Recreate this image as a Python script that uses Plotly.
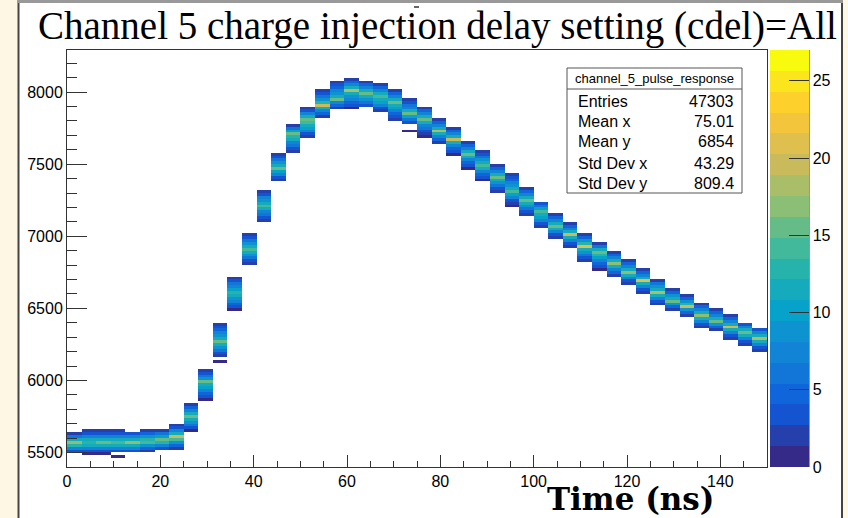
import plotly.graph_objects as go

# ---------------- data ----------------
title_text = "Channel 5 charge injection delay setting (cdel)=All"
x_title = "Time (ns)"
n_cols = 48
x_min, x_max = 0.0, 150.0
y_bin = 20
y_start = 5400

# lower edge (ADC) of the first filled y-bin of every 3.125 ns time column
col_lo = [5500, 5480, 5480, 5460, 5500, 5500, 5520, 5520, 5640, 5860,
          6120, 6480, 6800, 7100, 7380, 7580, 7680, 7820, 7880, 7880,
          7900, 7860, 7800, 7720, 7680, 7640, 7560, 7460, 7380, 7300,
          7200, 7140, 7060, 6980, 6920, 6820, 6760, 6720, 6660, 6600,
          6520, 6480, 6440, 6360, 6340, 6280, 6240, 6200]

# bin contents from bottom to top for every column
col_vals = [
    [3, 8, 13, 17, 11, 6, 2],
    [1, 3, 7, 12, 13, 11, 8, 4, 2],
    [1, 4, 8, 12, 16, 11, 7, 4, 2],
    [1, 0, 3, 7, 11, 14, 12, 8, 4, 2],
    [3, 7, 12, 17, 12, 7, 3],
    [2, 5, 9, 14, 13, 9, 5, 2],
    [3, 8, 13, 15, 10, 6, 2],
    [2, 5, 9, 14, 19, 12, 7, 4, 2],
    [1, 3, 6, 9, 12, 16, 11, 8, 5, 2],
    [1, 3, 5, 8, 10, 12, 15, 9, 6, 4, 2],
    [1, 0, 2, 4, 6, 9, 11, 15, 12, 9, 7, 5, 3, 2],
    [1, 3, 5, 7, 9, 11, 13, 10, 8, 6, 4, 2],
    [2, 4, 6, 9, 11, 14, 12, 9, 6, 4, 2],
    [2, 4, 6, 8, 11, 14, 12, 9, 7, 4, 2],
    [2, 4, 7, 10, 15, 12, 9, 6, 4, 2],
    [2, 4, 6, 8, 11, 13, 16, 10, 6, 2],
    [2, 4, 7, 10, 12, 14, 16, 11, 8, 4, 2],
    [2, 5, 8, 11, 19, 13, 9, 6, 4, 2],
    [2, 5, 8, 15, 12, 9, 7, 5, 3, 2],
    [1, 3, 5, 7, 9, 11, 18, 12, 8, 5, 2],
    [3, 6, 9, 12, 16, 12, 8, 5, 2],
    [2, 4, 7, 10, 12, 14, 11, 8, 5, 2],
    [2, 3, 5, 7, 10, 12, 15, 11, 8, 5, 2],
    [1, 0, 0, 3, 6, 10, 15, 11, 8, 6, 4, 2],
    [1, 2, 4, 6, 8, 11, 16, 12, 8, 5, 2],
    [2, 5, 8, 11, 18, 12, 8, 5, 2],
    [1, 3, 5, 8, 11, 19, 12, 8, 5, 2],
    [1, 3, 5, 8, 11, 15, 11, 8, 5, 2],
    [1, 3, 5, 8, 11, 14, 12, 9, 6, 4, 2],
    [2, 4, 6, 9, 12, 16, 12, 8, 5, 2],
    [1, 2, 4, 7, 10, 14, 12, 9, 7, 5, 3, 2],
    [2, 4, 6, 9, 12, 16, 11, 8, 5, 2],
    [2, 4, 7, 10, 12, 14, 10, 6, 3],
    [2, 4, 7, 11, 15, 11, 8, 5, 2],
    [2, 4, 7, 11, 19, 12, 8, 5, 2],
    [2, 4, 6, 9, 12, 21, 13, 9, 5, 2],
    [1, 3, 5, 7, 10, 13, 16, 11, 6, 2],
    [2, 5, 8, 12, 17, 12, 8, 5, 2],
    [2, 4, 7, 11, 17, 12, 8, 5, 2],
    [2, 4, 7, 12, 21, 12, 8, 5, 2],
    [2, 4, 7, 11, 18, 12, 9, 6, 2],
    [2, 5, 9, 16, 12, 9, 5, 2],
    [2, 5, 9, 19, 13, 9, 5, 2],
    [2, 4, 7, 11, 17, 12, 8, 5, 2],
    [2, 5, 9, 16, 12, 8, 5, 2],
    [2, 4, 7, 11, 19, 12, 8, 5, 2],
    [2, 4, 7, 11, 16, 11, 7, 3],
    [2, 4, 7, 11, 18, 11, 7, 3],
]

stats_name = "channel_5_pulse_response"
stats_labels = ["Entries", "Mean x", "Mean y", "Std Dev x", "Std Dev y"]
stats_values = ["47303", "75.01", "6854", "43.29", "809.4"]

z_max = 27
n_levels = 20

# ---------------- build histogram table ----------------
dx = (x_max - x_min) / n_cols
x_edges = [x_min + i * dx for i in range(n_cols + 1)]
top = max(lo + y_bin * len(v) for lo, v in zip(col_lo, col_vals))
n_rows = (top - y_start) // y_bin + 1
y_edges = [y_start + k * y_bin for k in range(n_rows + 1)]
z = [[None] * n_cols for _ in range(n_rows)]
for i, (lo, vals) in enumerate(zip(col_lo, col_vals)):
    r0 = (lo - y_start) // y_bin
    for j, v in enumerate(vals):
        if v > 0:
            z[r0 + j][i] = v

# ROOT kBird palette, 20 contour bands
st = [0.0, 0.125, 0.25, 0.375, 0.5, 0.625, 0.75, 0.875, 1.0]
rr = [0.2082, 0.0592, 0.0780, 0.0232, 0.1802, 0.5301, 0.8186, 0.9956, 0.9764]
gg = [0.1664, 0.3599, 0.5041, 0.6419, 0.7178, 0.7492, 0.7328, 0.7862, 0.9832]
bb = [0.5293, 0.8684, 0.8385, 0.7914, 0.6425, 0.4662, 0.3499, 0.1968, 0.0539]


def bird(f):
    for k in range(len(st) - 1):
        if f <= st[k + 1] + 1e-12:
            t = (f - st[k]) / (st[k + 1] - st[k])
            r = rr[k] + t * (rr[k + 1] - rr[k])
            g = gg[k] + t * (gg[k + 1] - gg[k])
            b = bb[k] + t * (bb[k + 1] - bb[k])
            return "rgb(%d,%d,%d)" % (round(r * 255), round(g * 255), round(b * 255))
    return "rgb(249,251,14)"


cscale = []
for k in range(n_levels):
    c = bird(k / (n_levels - 1))
    cscale.append([k / n_levels, c])
    cscale.append([(k + 1) / n_levels, c])

# ---------------- figure ----------------
W, H = 848, 518
L, R, T, B = 67, 767, 50, 467
pw, ph = R - L, B - T


def px(x):
    return (x - L) / pw


def py(y):
    return (B - y) / ph


axis_col = "#333333"
sans = "Liberation Sans, Arial, sans-serif"
serif = "Liberation Serif, Times New Roman, serif"
serif_b = "DejaVu Serif, serif"

fig = go.Figure(go.Heatmap(
    x=x_edges, y=y_edges, z=z, zmin=0, zmax=z_max,
    colorscale=cscale, zsmooth=False, hoverinfo="skip",
    colorbar=dict(
        x=px(770), xanchor="left", y=0.5, yanchor="middle",
        len=1.0, lenmode="fraction", thickness=39, thicknessmode="pixels",
        xpad=0, ypad=0, outlinewidth=0,
        tickmode="linear", tick0=0, dtick=5,
        ticks="inside", ticklen=20, tickcolor=axis_col, tickwidth=1,
        tickfont=dict(family=sans, size=16, color="black"),
    ),
))

shapes = [
    dict(type="rect", xref="paper", yref="paper", x0=px(0), x1=px(18), y0=py(518), y1=py(0),
         fillcolor="#fdf7e3", line=dict(width=0), layer="below"),
    dict(type="rect", xref="paper", yref="paper", x0=px(843), x1=px(848), y0=py(518), y1=py(0),
         fillcolor="#fdf7e3", line=dict(width=0), layer="below"),
    dict(type="line", xref="paper", yref="paper", x0=px(18.5), x1=px(18.5), y0=py(518), y1=py(0),
         line=dict(color="#444444", width=2)),
    dict(type="line", xref="paper", yref="paper", x0=px(842), x1=px(842), y0=py(518), y1=py(0),
         line=dict(color="#444444", width=2)),
    dict(type="line", xref="paper", yref="paper", x0=px(18), x1=px(843), y0=py(1.5), y1=py(1.5),
         line=dict(color="#999999", width=3)),
    # small stray dash above the title
    dict(type="line", xref="paper", yref="paper", x0=px(414), x1=px(419), y0=py(7), y1=py(7),
         line=dict(color="#333333", width=1.5)),
    dict(type="line", xref="paper", yref="paper", x0=px(809), x1=px(809), y0=0, y1=1,
         line=dict(color=axis_col, width=1)),
    dict(type="rect", xref="paper", yref="paper", x0=px(567), x1=px(742), y0=py(193), y1=py(68),
         fillcolor="white", line=dict(color="#555555", width=1)),
    dict(type="line", xref="paper", yref="paper", x0=px(567), x1=px(742), y0=py(89), y1=py(89),
         line=dict(color="#555555", width=1)),
]

ann = [
    dict(text=title_text, xref="paper", yref="paper", x=px(437), y=py(26),
         xanchor="center", yanchor="middle", showarrow=False,
         font=dict(family=serif, size=39, color="black")),
    dict(text="<b>%s</b>" % x_title, xref="paper", yref="paper", x=px(717), y=py(499),
         xanchor="right", yanchor="middle", showarrow=False,
         font=dict(family=serif_b, size=31, color="black")),
    dict(text=stats_name, xref="paper", yref="paper", x=px(654.5), y=py(78.5),
         xanchor="center", yanchor="middle", showarrow=False,
         font=dict(family=sans, size=13, color="black")),
]
row_y = [101, 121, 141, 163, 183]
for lab, val, yy in zip(stats_labels, stats_values, row_y):
    ann.append(dict(text=lab, xref="paper", yref="paper", x=px(576), y=py(yy),
                    xanchor="left", yanchor="middle", showarrow=False,
                    font=dict(family=sans, size=16, color="black")))
    ann.append(dict(text=val, xref="paper", yref="paper", x=px(736), y=py(yy),
                    xanchor="right", yanchor="middle", showarrow=False,
                    font=dict(family=sans, size=16, color="black")))

fig.update_layout(
    width=W, height=H,
    margin=dict(l=L, r=W - R, t=T, b=H - B, pad=0, autoexpand=False),
    paper_bgcolor="white", plot_bgcolor="white",
    shapes=shapes, annotations=ann, showlegend=False,
    xaxis=dict(range=[x_min, x_max], tickmode="linear", tick0=0, dtick=20,
               ticks="inside", ticklen=12, tickcolor=axis_col, tickwidth=1,
               minor=dict(dtick=5, ticks="inside", ticklen=6, tickcolor=axis_col),
               showgrid=False, zeroline=False, showline=True, mirror=True,
               linecolor=axis_col, linewidth=1, automargin=False,
               tickfont=dict(family=sans, size=16, color="black")),
    yaxis=dict(range=[5400, 8292], tickmode="linear", tick0=0, dtick=500,
               ticks="inside", ticklen=20, tickcolor=axis_col, tickwidth=1,
               minor=dict(dtick=100, ticks="inside", ticklen=10, tickcolor=axis_col),
               showgrid=False, zeroline=False, showline=True, mirror=True,
               linecolor=axis_col, linewidth=1, automargin=False,
               tickfont=dict(family=sans, size=16, color="black")),
)

fig.write_html("out.html", config={"displayModeBar": False},
               post_script="document.body.style.margin='0';document.body.style.overflow='hidden';")
